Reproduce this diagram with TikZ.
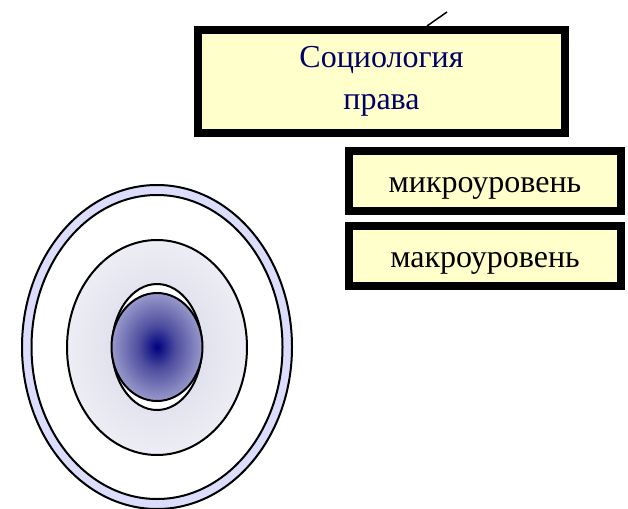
\documentclass[tikz,border=0pt]{standalone}
\usepackage{fontspec}
\setmainfont{Liberation Serif}
\definecolor{boxfill}{RGB}{255,255,204}
\definecolor{titlecol}{RGB}{0,0,102}
\definecolor{ringcol}{RGB}{220,220,252}
\pgfdeclareradialshading{blueball}{\pgfpoint{0bp}{0bp}}{%
  rgb(0bp)=(0,0,0.5);
  rgb(10bp)=(0.3,0.3,0.62);
  rgb(25bp)=(0.6,0.6,0.8);
  rgb(50bp)=(0.6,0.6,0.8)}
\pgfdeclareradialshading{midball}{\pgfpoint{0bp}{0bp}}{%
  rgb(0bp)=(0.84,0.84,0.91);
  rgb(25bp)=(0.93,0.93,0.96);
  rgb(50bp)=(0.93,0.93,0.96)}
\tikzset{
  thickbox/.style={draw=black, line width=8pt, fill=boxfill, inner sep=0pt, anchor=center},
  levelbox/.style={thickbox, minimum width=272pt, minimum height=60pt,
      font=\fontsize{32}{38}\selectfont, text height=22pt, text depth=0pt},
  thinline/.style={draw=black, line width=2pt},
}
\begin{document}
\begin{tikzpicture}[x=1pt,y=-1pt]
\useasboundingbox (0,0) rectangle (628,508);
% concentric ellipses
\fill[ringcol] (157,347) ellipse (135 and 162);
\draw[thinline, fill=white] (157,347) ellipse (125.5 and 152);
\draw[thinline] (157,347) ellipse (135 and 162);
\draw[thinline, shading=midball] (157,347.5) ellipse (90 and 107.5);
\draw[thinline, fill=white] (157,347) ellipse (45 and 63);
\draw[thinline, shading=blueball] (157,347) ellipse (45.5 and 54);
% boxes
\node[thickbox, minimum width=367pt, minimum height=103pt, align=center,
      text=titlecol, font=\fontsize{32}{42}\selectfont] (title) at (381.5,81.5)
      {Социология\\права};
\node[levelbox] (micro) at (485,181) {микроуровень};
\node[levelbox] (macro) at (485,256) {макроуровень};
% short connector
\coordinate (lt) at (447,12);
\coordinate (lb) at (427,26);
\draw[black, line width=1.5pt] (lt) -- (lb);
\end{tikzpicture}
\end{document}
